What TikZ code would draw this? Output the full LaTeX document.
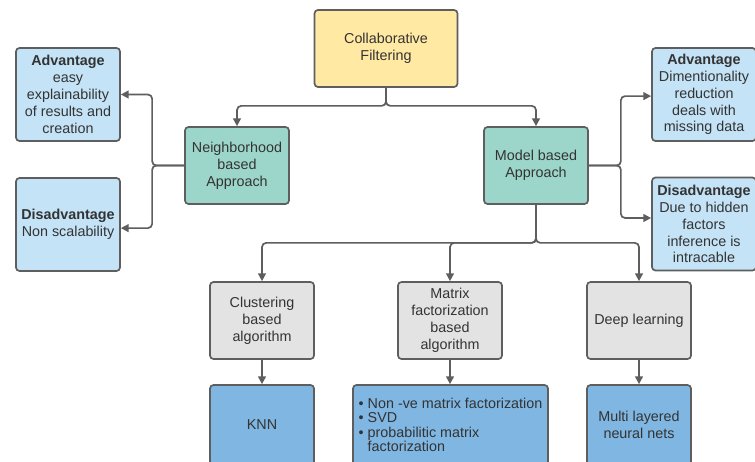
\documentclass[tikz,border=0pt]{standalone}
\usepackage{fontspec}
\setmainfont{Liberation Sans}
\usetikzlibrary{arrows.meta}

\definecolor{rootfill}{HTML}{FFE9A3}
\definecolor{apprfill}{HTML}{9CD6CA}
\definecolor{notefill}{HTML}{C4E3F6}
\definecolor{algofill}{HTML}{E3E3E3}
\definecolor{methfill}{HTML}{80B6E2}
\definecolor{edgecol}{HTML}{5E5E5E}
\definecolor{txtcol}{HTML}{333333}

\tikzset{
  box/.style={draw=edgecol,line width=1.2pt,rounded corners=2.5pt,text=txtcol,
    align=center,inner sep=1pt,font=\fontsize{10.2}{12}\selectfont,
    minimum width=2.6cm,minimum height=1.925cm},
  rootbox/.style={box,fill=rootfill,minimum width=3.575cm},
  apprbox/.style={box,fill=apprfill},
  notebox/.style={box,fill=notefill,minimum height=2.325cm},
  algobox/.style={box,fill=algofill},
  methbox/.style={box,fill=methfill,minimum height=2cm},
  conn/.style={draw=edgecol,line width=1.2pt,rounded corners=3pt,
    -{Triangle[length=5.5pt,width=5.5pt]}}
}

\begin{document}
\begin{tikzpicture}[x=0.025cm,y=-0.025cm]
      \path[use as bounding box,fill=white] (0,0) rectangle (755,461);
      % top
      \node[rootbox] (root) at (386,48.5) {Collaborative\\Filtering};
      \node[apprbox] (nbr) at (237,165.5) {Neighborhood\\based\\Approach};
      \node[apprbox] (model) at (536,165.5) {Model based\\Approach};
      % pros and cons
      \node[notebox] (advl) at (68,94.5) {\textbf{Advantage}\\easy\\explainability\\of results and\\creation};
      \node[notebox] (disl) at (68,224.5) {\textbf{Disadvantage}\\Non scalability};
      \node[notebox] (advr) at (704,94.5) {\textbf{Advantage}\\Dimentionality\\reduction\\deals with\\missing data};
      \node[notebox] (disr) at (704,224) {\textbf{Disadvantage}\\Due to hidden\\factors\\inference is\\intracable};
      % algorithms
      \node[algobox] (clus) at (262,320.5) {Clustering\\based\\algorithm};
      \node[algobox] (mat) at (450,320.5) {Matrix\\factorization\\based\\algorithm};
      \node[algobox] (deep) at (639,320.5) {Deep learning};
      \node[methbox] (knn) at (262,425) {KNN};
      \node[methbox,minimum width=4.875cm,align=left,
        font=\fontsize{10.2}{10.3}\selectfont] (list) at (450.5,425)
        {\textbullet{} Non -ve matrix factorization\\\textbullet{} SVD\\\textbullet{} probabilitic matrix\\\phantom{\textbullet{} }factorization};
      \node[methbox] (mln) at (639,425) {Multi layered\\neural nets};
      % connectors
      \draw[conn] (root.south) -- ++(0,18) -| (nbr.north);
      \draw[conn] (root.south) -- ++(0,18) -| (model.north);
      \draw[conn] (nbr.west) -- ++(-32,0) |- (advl.east);
      \draw[conn] (nbr.west) -- ++(-32,0) |- ([yshift=-0.09cm]disl.east);
      \draw[conn] (model.east) -- ++(32,0) |- ([yshift=-0.04cm]advr.west);
      \draw[conn] (model.east) -- ++(32,0) |- ([yshift=0.15cm]disr.west);
      \draw[conn] (model.south) -- ++(0,38) -| (clus.north);
      \draw[conn] (model.south) -- ++(0,38) -| (mat.north);
      \draw[conn] (model.south) -- ++(0,38) -| (deep.north);
      \draw[conn] (clus.south) -- (knn.north);
      \draw[conn] (mat.south) -- (list.north -| mat.south);
      \draw[conn] (deep.south) -- (mln.north);
\end{tikzpicture}
\end{document}
